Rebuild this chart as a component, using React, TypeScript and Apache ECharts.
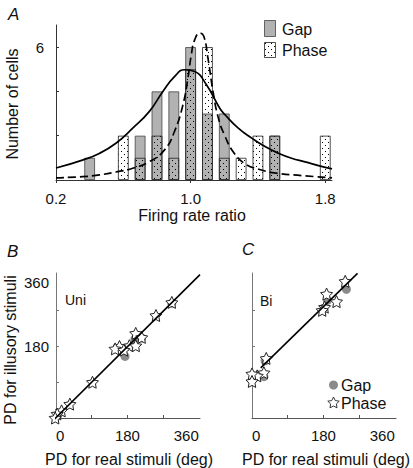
import React, { useEffect, useRef } from 'react';
import * as echarts from 'echarts';

// ---------- Panel A data ----------
const binCenters = [0.4, 0.6, 0.7, 0.8, 0.9, 1.0, 1.1, 1.2, 1.3, 1.4, 1.5, 1.8];
const gapCounts = [1, 0, 2, 4, 4, 6, 3, 3, 0, 0, 2, 0];
const phaseCounts = [0, 2, 1, 2, 1, 5, 6, 1, 1, 2, 2, 2];

const gapFit = [
  [0.2, 0.54], [0.357, 0.9], [0.457, 1.2], [0.556, 1.66], [0.656, 2.34], [0.755, 3.1],
  [0.835, 4.0], [0.904, 4.67], [0.964, 4.98], [1.024, 4.9], [1.094, 4.3], [1.173, 3.24],
  [1.204, 2.95], [1.283, 2.34], [1.363, 1.89], [1.442, 1.51], [1.521, 1.21], [1.6, 0.98],
  [1.68, 0.82], [1.76, 0.65], [1.84, 0.5],
];
const phaseFit = [
  [0.2, 0.1], [0.357, 0.15], [0.457, 0.23], [0.556, 0.36], [0.656, 0.53], [0.755, 0.83],
  [0.845, 1.36], [0.904, 2.19], [0.954, 3.39], [0.984, 4.6], [1.004, 5.66], [1.024, 6.33],
  [1.054, 6.64], [1.078, 6.49], [1.103, 5.5], [1.133, 4.0], [1.163, 2.85], [1.2, 2.05],
  [1.26, 1.2], [1.33, 0.7], [1.4, 0.5], [1.5, 0.32], [1.66, 0.2], [1.84, 0.1],
];
const ratioTicks = [0.2, 1.0, 1.8];
const countTicks = [2, 4, 6];
const countLabels = [6];

// ---------- Panel B (Uni) ----------
const uniGap = [[174, 155], [199, 199], [216, 201], [292, 289], [5, 8]];
const uniPhase = [
  [292, 291], [252, 258], [201, 213], [216, 203], [185, 182], [201, 182], [160, 180],
  [149, 174], [171, 171], [92, 90], [35, 35], [14, 18], [3, 10], [-2, 0],
];
const uniLine = [[-6, -5], [363, 361]];

// ---------- Panel C (Bi) ----------
const biGap = [[238, 324], [190, 296], [30, 104], [33, 144]];
const biPhase = [
  [235, 344], [188, 312], [213, 293], [183, 279], [177, 271], [36, 150], [30, 114],
  [13, 106], [0, 111], [0, 92],
];
const biLine = [[22, 126], [266, 364]];

const pdTicks = [90, 180, 270];
const pdXLabels = [0, 180, 360];
const pdYLabels = [180, 360];

const FONT = "'Liberation Sans', Arial, Helvetica, sans-serif";
const GRAY = '#b2b2b2';
const DOT_GRAY = '#8a8a8a';

function starPoints(cx: number, cy: number, ro: number, ri: number) {
  const pts: number[][] = [];
  for (let k = 0; k < 10; k++) {
    const r = k % 2 ? ri : ro;
    const a = -Math.PI / 2 + (k * Math.PI) / 5;
    pts.push([cx + r * Math.cos(a), cy + r * Math.sin(a)]);
  }
  return pts;
}
const starSymbol =
  'path://' +
  starPoints(50, 50, 50, 25)
    .map((p, i) => (i ? 'L' : 'M') + p[0].toFixed(2) + ',' + p[1].toFixed(2))
    .join(' ') +
  ' Z';

function makeDots() {
  const c = document.createElement('canvas');
  c.width = 6;
  c.height = 6;
  const ctx = c.getContext('2d')!;
  ctx.fillStyle = '#000';
  ctx.fillRect(1, 1, 1, 1);
  ctx.fillRect(4, 4, 1, 1);
  return { image: c, repeat: 'repeat', imageWidth: 6, imageHeight: 6 } as any;
}

export default function App() {
  const ref = useRef<HTMLDivElement>(null);
  useEffect(() => {
    document.body.style.margin = '0';
    const chart = echarts.init(ref.current!, null, { renderer: 'svg' });
    const dots = makeDots();
    const gapBars = binCenters.map((x, i) => [x, gapCounts[i]]).filter((d) => d[1] > 0);
    const phaseBars = binCenters.map((x, i) => [x, phaseCounts[i]]).filter((d) => d[1] > 0);

    const axisText = { fontFamily: FONT, fontSize: 15, color: '#111' };
    const pdX = (gi: number) => ({
      type: 'value', gridIndex: gi, min: 0, max: 363,
      axisLine: { onZero: false, lineStyle: { color: '#555', width: 1 } },
      axisTick: { customValues: pdTicks, inside: true, length: 3, lineStyle: { color: '#555' } },
      axisLabel: {
        ...axisText, customValues: pdXLabels, margin: 10,
        alignMinLabel: 'left', alignMaxLabel: 'right',
      },
      splitLine: { show: false },
    });
    const pdY = (gi: number, labels: boolean) => ({
      type: 'value', gridIndex: gi, min: 0, max: 365,
      axisLine: { onZero: false, lineStyle: { color: '#777', width: 1 } },
      axisTick: { customValues: pdTicks, inside: true, length: 3, lineStyle: { color: '#777' } },
      axisLabel: {
        ...axisText, show: labels, customValues: pdYLabels, margin: 7,
        verticalAlignMaxLabel: 'top',
      },
      splitLine: { show: false },
    });

    const txt = (x: number, y: number, text: string, extra: any = {}, style: any = {}) => ({
      type: 'text', x, y, ...extra,
      style: { text, fontFamily: FONT, fontSize: 16, fill: '#111', align: 'center', verticalAlign: 'middle', ...style },
    });

    chart.setOption({
      animation: false,
      backgroundColor: '#fff',
      grid: [
        { left: 56, top: 25, width: 276, height: 155 },
        { left: 56, top: 273, width: 144, height: 145 },
        { left: 252, top: 273, width: 144, height: 145 },
      ],
      xAxis: [
        {
          type: 'value', gridIndex: 0, min: 0.2, max: 1.84,
          axisLine: { onZero: false, lineStyle: { color: '#333', width: 1 } },
          axisTick: { customValues: ratioTicks, length: 3, lineStyle: { color: '#333' } },
          axisLabel: { ...axisText, customValues: ratioTicks, margin: 11, formatter: (v: number) => v.toFixed(1) },
          splitLine: { show: false },
        },
        pdX(1),
        pdX(2),
      ],
      yAxis: [
        {
          type: 'value', gridIndex: 0, min: 0, max: 7,
          axisLine: { onZero: false, lineStyle: { color: '#333', width: 1 } },
          axisTick: { customValues: countTicks, inside: true, length: 3, lineStyle: { color: '#333' } },
          axisLabel: { ...axisText, customValues: countLabels, margin: 12 },
          splitLine: { show: false },
        },
        pdY(1, true),
        pdY(2, false),
      ],
      series: [
        {
          type: 'bar', name: 'Gap', xAxisIndex: 0, yAxisIndex: 0, data: gapBars,
          barWidth: 10.7, barGap: '-100%',
          itemStyle: { color: GRAY, borderColor: '#444', borderWidth: 0.8 },
        },
        {
          type: 'bar', name: 'Phase', xAxisIndex: 0, yAxisIndex: 0, data: phaseBars,
          barWidth: 10.7, barGap: '-100%',
          itemStyle: { color: dots, borderColor: '#222', borderWidth: 0.8 },
        },
        {
          type: 'line', name: 'GapFit', xAxisIndex: 0, yAxisIndex: 0, data: gapFit, smooth: true,
          showSymbol: false, symbol: 'none', lineStyle: { color: '#000', width: 1.7 }, z: 5,
        },
        {
          type: 'line', name: 'PhaseFit', xAxisIndex: 0, yAxisIndex: 0, data: phaseFit, smooth: true,
          showSymbol: false, symbol: 'none', lineStyle: { color: '#000', width: 1.7, type: [8, 4] }, z: 5,
        },
        {
          type: 'line', xAxisIndex: 1, yAxisIndex: 1, data: uniLine, clip: false, symbol: 'none',
          lineStyle: { color: '#000', width: 1.6 },
        },
        {
          type: 'scatter', xAxisIndex: 1, yAxisIndex: 1, data: uniGap, clip: false,
          symbol: 'circle', symbolSize: 9, itemStyle: { color: DOT_GRAY, opacity: 1 },
        },
        {
          type: 'scatter', xAxisIndex: 1, yAxisIndex: 1, data: uniPhase, clip: false,
          symbol: starSymbol, symbolSize: 12,
          itemStyle: { color: '#fff', borderColor: '#222', borderWidth: 1, opacity: 1 },
        },
        {
          type: 'line', xAxisIndex: 2, yAxisIndex: 2, data: biLine, clip: false, symbol: 'none',
          lineStyle: { color: '#000', width: 1.6 },
        },
        {
          type: 'scatter', xAxisIndex: 2, yAxisIndex: 2, data: biGap, clip: false,
          symbol: 'circle', symbolSize: 9, itemStyle: { color: DOT_GRAY, opacity: 1 },
        },
        {
          type: 'scatter', xAxisIndex: 2, yAxisIndex: 2, data: biPhase, clip: false,
          symbol: starSymbol, symbolSize: 12,
          itemStyle: { color: '#fff', borderColor: '#222', borderWidth: 1, opacity: 1 },
        },
      ],
      graphic: [
        txt(8, 14, 'A', {}, { fontSize: 17, fontStyle: 'italic', align: 'left' }),
        txt(7, 251, 'B', {}, { fontSize: 17, fontStyle: 'italic', align: 'left' }),
        txt(242, 249, 'C', {}, { fontSize: 17, fontStyle: 'italic', align: 'left' }),
        txt(12, 104, 'Number of cells', { rotation: Math.PI / 2 }),
        txt(192, 215, 'Firing rate ratio'),
        txt(10, 350, 'PD for illusory stimuli', { rotation: Math.PI / 2 }),
        txt(129, 459, 'PD for real stimuli (deg)'),
        txt(326, 459, 'PD for real stimuli (deg)'),
        txt(65, 300, 'Uni', {}, { fontSize: 14, align: 'left' }),
        txt(260, 301, 'Bi', {}, { fontSize: 14, align: 'left' }),
        // legend A
        { type: 'rect', shape: { x: 264.5, y: 20.5, width: 11, height: 16 }, style: { fill: GRAY, stroke: '#444', lineWidth: 0.8 } },
        { type: 'rect', shape: { x: 264.5, y: 42.5, width: 11, height: 15 }, style: { fill: dots, stroke: '#222', lineWidth: 0.8 } },
        txt(282, 29, 'Gap', {}, { align: 'left' }),
        txt(282, 50, 'Phase', {}, { align: 'left' }),
        // legend C
        { type: 'circle', shape: { cx: 333.5, cy: 385, r: 4.5 }, style: { fill: DOT_GRAY } },
        { type: 'polygon', shape: { points: starPoints(333.5, 403, 6, 3) }, style: { fill: '#fff', stroke: '#222', lineWidth: 0.9 } },
        txt(341, 385, 'Gap', {}, { align: 'left' }),
        txt(341, 403, 'Phase', {}, { align: 'left' }),
      ],
    });
    return () => chart.dispose();
  }, []);
  return <div ref={ref} style={{ width: 413, height: 468 }} />;
}
